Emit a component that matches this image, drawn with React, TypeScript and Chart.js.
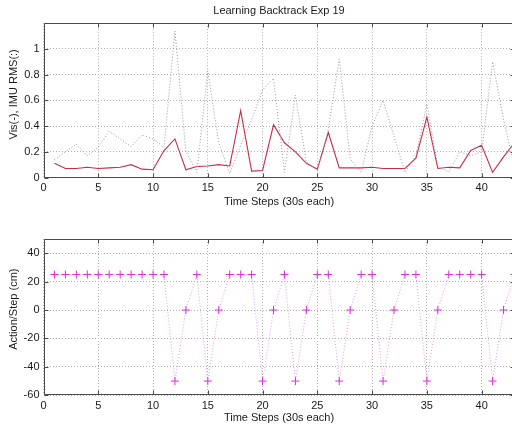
import React, { useEffect, useRef } from 'react';
import { Chart, registerables } from 'chart.js';

Chart.register(...registerables);

const steps = [1, 2, 3, 4, 5, 6, 7, 8, 9, 10, 11, 12, 13, 14, 15, 16, 17, 18, 19, 20, 21, 22, 23, 24, 25, 26, 27, 28, 29, 30, 31, 32, 33, 34, 35, 36, 37, 38, 39, 40, 41, 42, 43];

const visValues = [0.11, 0.07, 0.07, 0.08, 0.07, 0.075, 0.08, 0.1, 0.065, 0.06, 0.21, 0.3, 0.06, 0.085, 0.09, 0.1, 0.09, 0.52, 0.05, 0.055, 0.41, 0.27, 0.2, 0.11, 0.065, 0.35, 0.075, 0.075, 0.075, 0.08, 0.07, 0.07, 0.07, 0.15, 0.47, 0.07, 0.08, 0.075, 0.21, 0.25, 0.04, 0.16, 0.27];

const imuValues = [0.14, 0.2, 0.26, 0.17, 0.235, 0.36, 0.3, 0.24, 0.33, 0.3, 0.235, 1.14, 0.2, 0.04, 0.83, 0.27, 0.03, 0.25, 0.45, 0.68, 0.77, 0.04, 0.64, 0.12, 0.056, 0.375, 0.92, 0.145, 0.04, 0.4, 0.6, 0.32, 0.04, 0.17, 0.57, 0.09, 0.04, 0.2, 0.17, 0.2, 0.9, 0.45, 0.08];

const actionValues = [25, 25, 25, 25, 25, 25, 25, 25, 25, 25, 25, -50, 0, 25, -50, 0, 25, 25, 25, -50, 0, 25, -50, 0, 25, 25, -50, 0, 25, 25, -50, 0, 25, 25, -50, 0, 25, 25, 25, 25, -50, 0, 25];

const titleText = 'Learning Backtrack Exp 19';
const xLabel = 'Time Steps (30s each)';
const topYLabel = 'Vis(-), IMU RMS(:)';
const bottomYLabel = 'Action/Step (cm)';

const FONT = "'Liberation Sans', Arial, sans-serif";
const TEXT = '#1a1a1a';
const GRID = '#b0b0b0';
const FRAME = '#4a4a4a';

const framePlugin = {
  id: 'frame',
  afterDraw(chart: any, _args: any, opts: any) {
    const { ctx, chartArea: a, scales } = chart;
    ctx.save();
    ctx.strokeStyle = FRAME;
    ctx.lineWidth = 1;
    ctx.setLineDash([]);
    ctx.beginPath();
    const L = Math.round(a.left) + 0.5;
    const R = Math.round(a.right) - 0.5;
    const T = Math.round(a.top) + 0.5;
    const B = Math.round(a.bottom) - 0.5;
    ctx.rect(L, T, R - L, B - T);
    const xs = scales.x;
    const ys = scales.y;
    xs.ticks.forEach((t: any) => {
      const px = Math.round(xs.getPixelForValue(t.value)) + 0.5;
      ctx.moveTo(px, B);
      ctx.lineTo(px, B - 4);
      ctx.moveTo(px, T);
      ctx.lineTo(px, T + 4);
    });
    ys.ticks.forEach((t: any) => {
      const py = Math.round(ys.getPixelForValue(t.value)) + 0.5;
      ctx.moveTo(L, py);
      ctx.lineTo(L + 4, py);
      ctx.moveTo(R, py);
      ctx.lineTo(R - 4, py);
    });
    ctx.stroke();
    // y axis label (rotated), slightly above the axis centre as in the source
    if (opts && opts.yLabel) {
      ctx.fillStyle = TEXT;
      ctx.font = `11px ${FONT}`;
      ctx.textAlign = 'center';
      ctx.textBaseline = 'middle';
      ctx.translate(14, (a.top + a.bottom) / 2 - (opts.yShift || 0));
      ctx.rotate(-Math.PI / 2);
      ctx.fillText(opts.yLabel, 0, 0);
    }
    ctx.restore();
  },
};

function xScale(height: number, titlePadBottom: number) {
  return {
    type: 'linear' as const,
    min: 0,
    max: 43,
    afterFit: (s: any) => {
      s.height = height;
    },
    ticks: {
      stepSize: 5,
      includeBounds: false,
      padding: 4,
      color: TEXT,
      font: { family: FONT, size: 11 },
      maxRotation: 0,
    },
    grid: { color: GRID, lineWidth: 1, drawTicks: false },
    border: { display: false, dash: [1, 2] },
    title: {
      display: true,
      text: xLabel,
      color: TEXT,
      font: { family: FONT, size: 11 },
      padding: { top: 0, bottom: titlePadBottom },
    },
  };
}

function yScale(min: number, max: number, step: number, maxTick: number) {
  return {
    type: 'linear' as const,
    min,
    max,
    afterFit: (s: any) => {
      s.width = 43.5;
    },
    afterBuildTicks: (s: any) => {
      s.ticks = s.ticks.filter((t: any) => t.value <= maxTick + 1e-6);
    },
    ticks: {
      stepSize: step,
      includeBounds: false,
      padding: 4,
      color: TEXT,
      font: { family: FONT, size: 11 },
      callback: (v: any) => String(Number(Number(v).toFixed(2))),
    },
    grid: { color: GRID, lineWidth: 1, drawTicks: false },
    border: { display: false, dash: [1, 2] },
  };
}

export default function App() {
  const topRef = useRef<HTMLCanvasElement>(null);
  const botRef = useRef<HTMLCanvasElement>(null);

  useEffect(() => {
    const top = new Chart(topRef.current as HTMLCanvasElement, {
      type: 'line',
      data: {
        datasets: [
          {
            label: 'IMU RMS',
            data: steps.map((s, i) => ({ x: s, y: imuValues[i] })),
            borderColor: '#999999',
            borderWidth: 1,
            borderDash: [1, 2],
            pointRadius: 0,
            tension: 0,
            fill: false,
          },
          {
            label: 'Vis',
            data: steps.map((s, i) => ({ x: s, y: visValues[i] })),
            borderColor: 'rgb(200,45,70)',
            borderWidth: 1.1,
            pointRadius: 0,
            tension: 0,
            fill: false,
          },
        ],
      },
      options: {
        animation: false,
        responsive: false,
        devicePixelRatio: 1,
        layout: { padding: { left: 0, right: 15.5, top: 0, bottom: 0 } },
        plugins: {
          legend: { display: false },
          tooltip: { enabled: false },
          title: {
            display: true,
            fullSize: false,
            text: titleText,
            color: TEXT,
            font: { family: FONT, size: 11, weight: 'normal' },
            padding: { top: 4, bottom: 6 },
          },
          frame: { yLabel: topYLabel, yShift: 6 },
        },
        scales: {
          x: xScale(37.5, 6.7),
          y: yScale(0, 1.2, 0.2, 1),
        },
      } as any,
      plugins: [framePlugin],
    });

    const bottom = new Chart(botRef.current as HTMLCanvasElement, {
      type: 'line',
      data: {
        datasets: [
          {
            label: 'Action',
            data: steps.map((s, i) => ({ x: s, y: actionValues[i] })),
            borderColor: 'rgba(228,150,228,0.95)',
            borderWidth: 1,
            borderDash: [1, 2],
            pointStyle: 'cross',
            pointRadius: 4,
            pointBorderWidth: 1,
            pointBorderColor: '#e02ce0',
            tension: 0,
            fill: false,
          },
        ],
      },
      options: {
        animation: false,
        responsive: false,
        devicePixelRatio: 1,
        layout: { padding: { left: 0, right: 15.5, top: 24, bottom: 0 } },
        plugins: {
          legend: { display: false },
          tooltip: { enabled: false },
          title: { display: false },
          frame: { yLabel: bottomYLabel, yShift: 8 },
        },
        scales: {
          x: xScale(32.7, 3.9),
          y: yScale(-60, 50, 20, 40),
        },
      } as any,
      plugins: [framePlugin],
    });

    return () => {
      top.destroy();
      bottom.destroy();
    };
  }, []);

  return (
    <div
      style={{
        position: 'absolute',
        left: 0,
        top: 0,
        width: 512,
        height: 428,
        overflow: 'hidden',
        background: '#ffffff',
      }}
    >
      <canvas ref={topRef} width={530} height={215} style={{ display: 'block', width: 530, height: 215 }} />
      <canvas ref={botRef} width={530} height={213} style={{ display: 'block', width: 530, height: 213 }} />
    </div>
  );
}
